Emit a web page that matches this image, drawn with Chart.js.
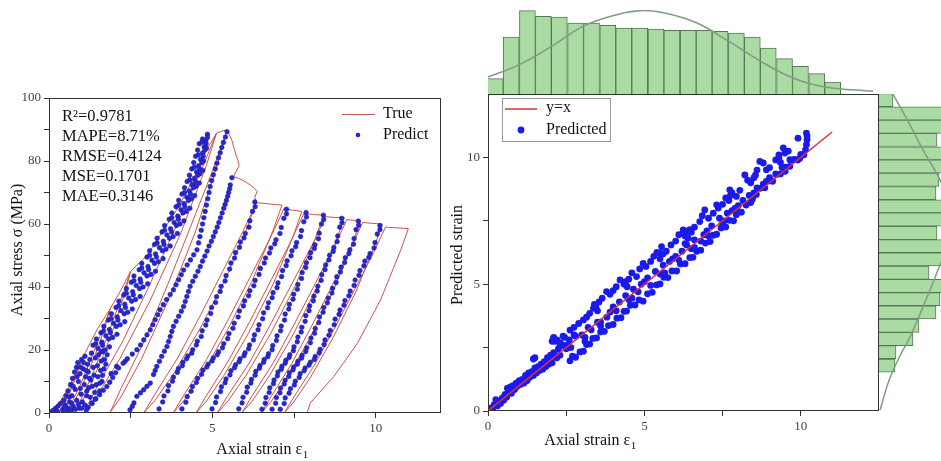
<!DOCTYPE html>
<html>
<head>
<meta charset="utf-8">
<script src="https://cdn.jsdelivr.net/npm/chart.js@4.4.0/dist/chart.umd.min.js"></script>
<style>
  html, body { margin: 0; padding: 0; background: #fff; overflow: hidden; }
  #wrap { position: relative; width: 941px; height: 461px; overflow: hidden; background: #fff; }
  #wrap canvas { position: absolute; top: 0; }
</style>
</head>
<body>
<div id="wrap">
  <canvas id="leftChart" width="450" height="461" style="left:0;width:450px;height:461px"></canvas>
  <canvas id="scatterChart" width="501" height="461" style="left:440px;width:501px;height:461px"></canvas>
  <canvas id="topHist" width="501" height="96" style="left:440px;width:501px;height:96px"></canvas>
  <canvas id="rightHist" width="130" height="461" style="left:879px;width:130px;height:461px"></canvas>
</div>
<script>
// ==========================================================
// DATA - left panel (stress-strain, cyclic loading)
// ==========================================================

// measured curve, [strain, stress]
const trueCurve = [
  [0,0],[0.3,3],[0.6,8],[1.0,17],
  [0.944,15.0],[0.811,10.9],[0.65,6.8],[0.489,3.2],[0.37,1.0],[0.3,0],
  [0.37,1.5],[0.51,4.4],[0.65,7.8],[0.79,11.4],[0.916,14.6],[1.0,17],
  [1.2,21],[1.5,27],[1.87,33],
  [1.764,29.0],[1.514,21.1],[1.21,13.2],[0.906,6.3],[0.682,2.0],[0.55,0],
  [0.682,3.0],[0.946,8.6],[1.21,15.2],[1.474,22.1],[1.712,28.4],[1.87,33],
  [2.2,39],[2.5,45],
  [2.364,39.6],[2.041,28.8],[1.65,18.0],[1.259,8.6],[0.97,2.7],[0.8,0],
  [0.97,4.1],[1.31,11.7],[1.65,20.7],[1.99,30.2],[2.296,38.7],[2.5,45],
  [3.0,50],[3.5,58],[4.0,66],[4.5,76],[4.85,84],[5.13,88.9],
  [4.804,78.2],[4.028,56.9],[3.09,35.6],[2.152,16.9],[1.458,5.3],[1.05,0],
  [1.458,8.0],[2.274,23.1],[3.09,40.9],[3.906,59.6],[4.64,76.5],[5.13,88.9],
  [5.3,89.5],[5.45,89.8],
  [5.163,79.0],[4.481,57.5],[3.655,35.9],[2.829,17.1],[2.219,5.4],[1.86,0],
  [2.219,8.1],[2.937,23.3],[3.655,41.3],[4.373,60.2],[5.019,77.2],[5.45,89.8],
  [5.6,86.5],[5.72,82],[5.78,80.3],[5.82,78.5],[5.72,76.5],[5.65,75],[5.8,74.5],[6.0,73.5],
  [6.16,72.4],[6.3,71.2],[6.37,70.3],[6.3,68.5],[6.35,67],
  [6.074,59.0],[5.419,42.9],[4.625,26.8],[3.832,12.7],[3.245,4.0],[2.9,0],
  [3.245,6.0],[3.935,17.4],[4.625,30.8],[5.315,44.9],[5.936,57.6],[6.35,66.8],
  [6.7,66.4],[7.13,66],
  [6.864,58.1],[6.231,42.2],[5.465,26.4],[4.699,12.5],[4.133,4.0],[3.8,0],
  [4.14,5.9],[4.82,16.9],[5.5,29.9],[6.18,43.6],[6.79,55.9],[7.2,65],
  [7.45,64.4],[7.74,64],
  [7.481,56.3],[6.865,41.0],[6.12,25.6],[5.375,12.2],[4.824,3.8],[4.5,0],
  [4.83,5.7],[5.49,16.5],[6.15,29.1],[6.81,42.4],[7.4,54.4],[7.8,63.3],
  [8.1,63],[8.41,62.8],
  [8.149,55.3],[7.53,40.2],[6.78,25.1],[6.03,11.9],[5.476,3.8],[5.15,0],
  [5.48,5.6],[6.15,16.2],[6.81,28.7],[7.47,41.7],[8.07,53.6],[8.47,62.3],
  [8.75,62.1],[9.04,62],
  [8.789,54.6],[8.192,39.7],[7.47,24.8],[6.748,11.8],[6.214,3.7],[5.9,0],
  [6.22,5.5],[6.87,16.0],[7.51,28.2],[8.15,41.1],[8.73,52.8],[9.12,61.4],
  [9.3,61.2],[9.53,61],
  [9.288,53.7],[8.712,39.0],[8.015,24.4],[7.318,11.6],[6.803,3.7],[6.5,0],
  [6.81,5.4],[7.43,15.7],[8.05,27.8],[8.67,40.5],[9.23,52.0],[9.6,60.5],
  [9.9,60.2],[10.2,60],
  [9.96,52.8],[9.39,38.4],[8.7,24.0],[8.01,11.4],[7.5,3.6],[7.2,0],
  [7.51,5.3],[8.13,15.3],[8.75,27.1],[9.37,39.5],[9.93,50.7],[10.3,59],
  [10.65,58.8],[11.0,58.5],
  [10.77,51.8],[10.15,35.9],[9.44,22.1],[8.72,11.6],[8.0,3.2],[7.9,0]
];

// predicted points, grouped by loading branch
const predCluster = [
  [0.05,0.3],[0.12,0.8],[0.2,1.5],[0.28,2.2],[0.35,3],[0.42,1],[0.45,4],[0.5,2.5],[0.52,5.5],[0.58,7],
  [0.6,1.5],[0.63,3.5],[0.66,9],[0.7,5.5],[0.72,11],[0.75,2],[0.78,13],[0.8,7.5],[0.84,14.5],[0.85,4],
  [0.88,16],[0.9,10],[0.92,1.5],[0.95,12.5],[0.98,6],[1.0,17],[1.02,3.5],[1.05,14],[1.08,9],[1.1,18],
  [1.12,11.5],[1.15,5.5],[1.18,15.5],[1.2,13],[1.22,8],[1.25,17],[1.28,10.5],[1.3,19],[1.32,3],[1.35,14.5],
  [1.38,12],[1.4,6.5],[1.42,17.5],[1.45,9],[1.48,15],[1.5,11.5],[1.52,18.5],[1.55,7],[1.58,13.5],[1.6,16.5],
  [1.62,10],[1.65,19.5],[1.68,14],[1.7,17],[0.68,0.8],[0.8,1.2],[1.0,1.5],[1.1,2.5],[0.55,0.5],[0.25,0.6],
  [1.9,12.5],[2.07,14.8],[2.33,16.4],
  [0.62,5],[0.74,8.5],[0.86,11.5],[0.97,14.5],[1.06,16],[1.14,13.5],[1.24,11],[1.33,8.5],[1.43,4.5],[1.56,9.5],
  [1.64,12],[1.74,15.5],[1.78,18.5],[0.96,7.8],[1.16,7],[1.26,5],[0.48,1.8],[0.7,3],[0.9,2.8],[1.2,1.8]
];
const predBand = [
  [1.5,20.5],[1.62,22.5],[1.74,24.5],[1.85,26.5],[1.97,28.5],[2.09,30.5],[2.2,32.5],[2.32,34.5],[2.44,36.5],
  [2.56,38.5],[2.67,40.5],[2.79,42.5],[2.91,44.5],[3.03,46.5],[3.15,48.5],[3.26,50.5],[3.38,52.5],[3.5,54.5],
  [3.61,56.5],[3.72,58.5],[3.83,60.5],[3.94,62.5],[4.04,64.5],[4.13,66.5],[4.22,68.5],[4.3,70.5],[4.38,72.5],
  [4.45,74.5],[4.52,76.5],[4.58,78.5],[4.64,80.5],[4.7,82.5],[4.75,84.5],[4.8,86.5],[4.85,88.5],
  [1.35,21.5],[1.59,25.5],[1.82,29.5],[2.05,33.5],[2.29,37.5],[2.52,41.5],[2.76,45.5],[3.0,49.5],[3.23,53.5],
  [3.46,57.5],[3.68,61.5],[3.89,65.5],[4.07,69.5],[4.23,73.5],[4.37,77.5],[4.49,81.5],[4.6,85.5],
  [1.72,20],[1.95,24],[2.18,28],[2.41,32],[2.65,36],[2.88,40],[3.12,44],[3.35,48],[3.58,52],[3.8,56],
  [4.01,60],[4.2,64],[4.36,68],[4.5,72],[4.62,76],[4.73,80],[4.82,84],
  [1.45,23.5],[1.68,27.5],[1.91,31.5],[2.14,35.5],[2.37,39.5],[2.6,43.5],[2.84,47.5],[3.08,51.5],[3.31,55.5],
  [3.54,59.5],[3.76,63.5],[3.97,67.5],[4.15,71.5],[4.3,75.5],[4.43,79.5],[4.55,83.5],[4.7,87],
  [1.6,19.5],[1.83,23.5],[2.06,27.5],[2.3,31.5],[2.53,35.5],[2.77,39.5],[3.0,43.5],[3.23,47.5],[3.47,51.5],
  [3.69,55.5],[3.9,59.5],[4.1,63.5],[4.27,67.5],[4.42,71.5],[4.56,75.5],[4.68,79.5],[4.77,83.5],[4.85,87.5],
  [1.43,22],[1.67,26],[1.9,30],[2.13,34],[2.37,38],[2.6,42],[2.84,46],[3.08,50],[3.31,54],
  [3.54,58],[3.76,62],[3.97,66],[4.15,70],[4.31,74],[4.45,78],[4.57,82],[4.68,86],
  [1.64,21.5],[1.88,25.5],[2.11,29.5],[2.34,33.5],[2.58,37.5],[2.81,41.5],[3.05,45.5],[3.29,49.5],[3.52,53.5],
  [3.75,57.5],[3.96,61.5],[4.16,65.5],[4.33,69.5],[4.48,73.5],[4.61,77.5],[4.72,81.5],[4.81,85.5],
  [1.85,21],[2.08,25],[2.32,29],[2.55,33],[2.79,37],[3.02,41],[3.26,45],[3.49,49],[3.71,53],
  [3.93,57],[4.13,61],[4.31,65],[4.46,69],[4.6,73],[4.71,77]
];
const predCol1 = [
  [1.15,1],[1.31,3.2],[1.55,5.8],[1.77,8.4],[1.95,11.3],[2.13,14.3],[2.4,17.2],[2.69,20.1],[2.9,23.2],[3.1,26.4],
  [3.25,29.6],[3.4,32.8],[3.6,36],[3.81,39.1],[3.97,42.3],[4.12,45.4],[4.33,48.6],[4.53,51.8],[4.62,56],[4.7,60],
  [4.78,64],[4.86,68],[4.93,71.9],[5.03,75.6],[5.14,79.3],[5.24,82.6],[5.34,85.9],[5.45,89.3],
  [1.42,4.4],[1.66,7.2],[1.86,9.8],[2.04,12.8],[2.27,15.8],[2.55,18.7],[2.8,21.6],[3.0,24.8],[3.18,28],[3.33,31.2],
  [3.5,34.4],[3.71,37.6],[3.89,40.7],[4.05,43.9],[4.23,47],[4.43,50.2],[4.58,54],[4.66,58],[4.74,62],[4.82,66],
  [4.9,70],[4.98,73.8],[5.09,77.5],[5.19,81],[5.29,84.3],[5.4,87.6]
];
const predCol2 = [
  [2.48,1],[2.6,3.2],[2.69,5.3],[2.9,7.4],[3.1,9.5],[3.2,12.2],[3.3,14.8],[3.45,18],[3.61,21.1],[3.71,24.3],
  [3.81,27.5],[3.97,30.7],[4.12,33.8],[4.22,37],[4.32,40.2],[4.48,43.4],[4.63,46.5],[4.77,49.8],[4.9,53],[5.03,56],
  [5.15,59],[5.25,62],[5.35,65],[5.43,67.5],[5.5,70],[5.55,72.4],[5.6,74.7],
  [2.55,2.1],[2.8,6.4],[3.0,8.5],[3.25,13.5],[3.38,16.4],[3.53,19.6],[3.66,22.7],[3.76,25.9],[3.89,29.1],[4.05,32.3],
  [4.17,35.4],[4.27,38.6],[4.4,41.8],[4.56,45],[4.7,48.2],[4.84,51.4],[4.97,54.5],[5.09,57.5],[5.2,60.5],[5.3,63.5],
  [5.39,66.2],[5.47,68.8],[5.53,71.2]
];
const predCol3 = [
  [3.37,1.3],[3.52,5.4],[3.66,8.7],[3.81,11.4],[3.96,14.1],[4.10,16.1],[4.25,18.1],[4.40,20.1],[4.54,22.8],[4.69,26.1],
  [4.84,29.5],[4.98,33.5],[5.13,36.9],[5.27,40.2],[5.42,43.6],[5.57,47.6],[5.71,50.9],[5.86,54.3],[6.01,57.0],[6.15,61.0],
  [6.23,64.0],[6.30,67.0],
  [3.48,3.5],[3.64,7.0],[3.78,10.1],[3.93,12.9],[4.08,15.0],[4.21,17.2],[4.37,19.0],[4.51,21.6],[4.66,24.3],[4.80,27.9],
  [4.95,31.6],[5.10,35.1],[5.24,38.6],[5.39,41.9],[5.53,45.7],[5.68,49.2],[5.83,52.6],[5.97,55.6],[6.12,59.0],[6.31,65.5]
];
const predCol4 = [
  [4.07,1.3],[4.23,5.2],[4.39,8.4],[4.55,11.0],[4.71,13.6],[4.87,15.5],[5.03,17.5],[5.19,19.4],[5.35,22.0],[5.51,25.2],
  [5.67,28.5],[5.83,32.4],[5.99,35.6],[6.15,38.8],[6.31,42.1],[6.47,45.9],[6.63,49.2],[6.79,52.4],[6.95,55.0],[7.11,58.9],
  [7.19,61.8],[7.27,64.7],
  [4.19,3.4],[4.35,6.9],[4.51,9.7],[4.67,12.3],[4.83,14.6],[4.99,16.5],[5.15,18.5],[5.31,20.7],[5.47,23.6],[5.63,26.9],
  [5.79,30.5],[5.95,34.0],[6.11,37.2],[6.27,40.4],[6.43,44.0],[6.59,47.6],[6.75,50.8],[6.91,53.7],[7.07,57.0],[7.27,63.2]
];
const predCol5 = [
  [4.99,1.3],[5.13,5.1],[5.28,8.3],[5.42,10.8],[5.57,13.4],[5.71,15.3],[5.85,17.2],[6.00,19.1],[6.14,21.6],[6.29,24.8],
  [6.43,28.0],[6.57,31.8],[6.72,35.0],[6.86,38.2],[7.01,41.3],[7.15,45.2],[7.29,48.3],[7.44,51.5],[7.58,54.1],[7.73,57.9],
  [7.80,60.7],[7.87,63.6],
  [5.10,3.3],[5.25,6.8],[5.39,9.6],[5.54,12.1],[5.68,14.4],[5.82,16.3],[5.97,18.2],[6.11,20.4],[6.26,23.2],[6.40,26.4],
  [6.54,29.9],[6.69,33.4],[6.83,36.6],[6.98,39.8],[7.12,43.3],[7.26,46.8],[7.41,49.9],[7.55,52.8],[7.70,56.0],[7.88,62.2]
];
const predCol6 = [
  [5.81,1.3],[5.94,5.0],[6.07,8.2],[6.20,10.7],[6.33,13.2],[6.46,15.1],[6.59,17.0],[6.72,18.8],[6.85,21.4],[6.98,24.5],
  [7.11,27.6],[7.23,31.4],[7.36,34.5],[7.49,37.7],[7.62,40.8],[7.75,44.6],[7.88,47.7],[8.01,50.9],[8.14,53.4],[8.27,57.1],
  [8.34,60.0],[8.40,62.8],
  [5.91,3.2],[6.05,6.6],[6.18,9.5],[6.31,12.0],[6.44,14.2],[6.57,16.1],[6.70,17.9],[6.83,20.1],[6.96,23.0],[7.09,26.1],
  [7.21,29.5],[7.34,33.0],[7.47,36.1],[7.60,39.3],[7.73,42.7],[7.86,46.2],[7.99,49.3],[8.12,52.2],[8.25,55.3],[8.41,61.4]
];
const predCol7 = [
  [6.52,1.2],[6.64,4.9],[6.76,8.0],[6.89,10.5],[7.01,13.0],[7.13,14.8],[7.25,16.7],[7.37,18.5],[7.50,21.0],[7.62,24.1],
  [7.74,27.2],[7.86,30.9],[7.98,34.0],[8.11,37.1],[8.23,40.2],[8.35,43.9],[8.47,47.0],[8.59,50.1],[8.72,52.5],[8.84,56.2],
  [8.90,59.0],[8.96,61.8],
  [6.62,3.1],[6.74,6.5],[6.87,9.3],[6.99,11.8],[7.11,13.9],[7.23,15.8],[7.35,17.6],[7.48,19.8],[7.60,22.6],[7.72,25.7],
  [7.84,29.1],[7.96,32.5],[8.09,35.6],[8.21,38.7],[8.33,42.1],[8.45,45.5],[8.57,48.6],[8.70,51.3],[8.82,54.4],[8.97,60.4]
];
const predCol8 = [
  [6.83,1.2],[6.96,4.9],[7.09,7.9],[7.23,10.4],[7.36,12.8],[7.49,14.6],[7.62,16.4],[7.75,18.3],[7.89,20.7],[8.02,23.8],
  [8.15,26.8],[8.28,30.5],[8.41,33.5],[8.55,36.5],[8.68,39.6],[8.81,43.2],[8.94,46.3],[9.07,49.3],[9.21,51.8],[9.34,55.4],
  [9.40,58.2],[9.47,60.9],
  [6.94,3.1],[7.07,6.4],[7.20,9.2],[7.34,11.6],[7.47,13.7],[7.60,15.5],[7.73,17.4],[7.86,19.5],[8.00,22.3],[8.13,25.3],
  [8.26,28.7],[8.39,32.0],[8.52,35.0],[8.66,38.1],[8.79,41.4],[8.92,44.8],[9.05,47.8],[9.18,50.6],[9.32,53.6],[9.48,59.6]
];
const predCol9 = [
  [7.08,1.2],[7.23,4.8],[7.39,7.7],[7.54,10.1],[7.69,12.5],[7.84,14.3],[8.00,16.1],[8.15,17.9],[8.30,20.2],[8.45,23.2],
  [8.61,26.2],[8.76,29.8],[8.91,32.7],[9.06,35.7],[9.22,38.7],[9.37,42.2],[9.52,45.2],[9.67,48.2],[9.83,50.6],[9.98,54.1],
  [10.05,56.8],[10.13,59.5],
  [7.20,3.0],[7.35,6.3],[7.51,8.9],[7.66,11.3],[7.81,13.4],[7.96,15.2],[8.12,17.0],[8.27,19.1],[8.42,21.7],[8.57,24.7],
  [8.73,28.0],[8.88,31.3],[9.03,34.2],[9.18,37.2],[9.34,40.5],[9.49,43.7],[9.64,46.7],[9.79,49.4],[9.95,52.4],[10.13,58.2]
];

const metricLines = ['R\u00B2=0.9781', 'MAPE=8.71%', 'RMSE=0.4124', 'MSE=0.1701', 'MAE=0.3146'];

// ==========================================================
// DATA - right panel (predicted vs true strain)
// ==========================================================

const lineYX = [[0, 0], [11, 11]];

const scatterPts = [
  [0.05,0.02],[0.1,0.12],[0.15,0.1],[0.2,0.25],[0.25,0.45],[0.3,0.2],[0.35,0.38],[0.4,0.3],[0.45,0.5],[0.5,0.42],
  [0.55,0.65],[0.6,0.55],[0.62,0.9],[0.68,0.75],[0.72,0.95],[0.75,0.7],[0.8,1.0],[0.85,0.85],[0.9,1.1],[0.95,1.0],
  [1.0,1.2],[1.05,1.05],[1.1,1.25],[1.15,1.1],[1.2,1.4],[1.25,1.2],[1.3,1.5],[1.35,1.35],[1.4,1.55],[1.45,1.4],
  [1.5,1.7],[1.55,1.5],[1.6,1.75],[1.65,1.6],[1.7,1.85],[1.75,1.65],[1.8,1.95],[1.85,1.75],[1.9,2.1],[1.95,1.85],
  [2.0,2.2],[2.05,1.9],[2.1,2.3],[1.45,2.05],[1.5,2.1],[2.1,2.9],[2.05,2.75],[2.2,2.1],[2.25,2.45],[2.3,2.2],
  [2.4,2.6],[2.5,2.45],[2.6,2.8],[2.65,2.5],[2.75,3.0],
  [2.62,1.98],[2.7,2.16],[2.8,2.12],[2.94,2.33],[3.05,2.36],[3.15,2.62],[3.25,2.64],[3.35,2.86],[3.47,2.88],[3.6,3.12],
  [3.72,3.14],[3.85,3.37],[4.0,3.41],[4.12,3.66],[4.25,3.68],[4.35,3.93],[4.43,3.94],[4.55,4.17],[4.7,4.18],[4.83,4.38],
  [4.96,4.33],[5.1,4.62],[5.25,4.68],[5.39,4.97],[5.5,5.01],[5.62,5.27],[5.75,5.26],[5.88,5.52],[6.03,5.52],[6.15,5.8],
  [6.3,5.81],[6.45,6.05],[6.55,6.06],[6.67,6.3],[6.8,6.34],[6.95,6.62],[7.1,6.68],[7.2,6.93],[7.31,6.97],[7.45,7.22],
  [7.6,7.26],[7.72,7.52],[7.85,7.5],[7.94,7.74],[8.1,7.84],[8.25,8.12],[8.4,8.22],[8.5,8.5],[8.58,8.54],[8.7,8.78],
  [8.85,8.8],[9.0,9.08],[9.1,9.06],[9.22,9.33],[9.35,9.35],[9.5,9.62],[9.65,9.65],[9.8,9.92],[9.9,9.9],[10.0,10.12],
  [10.1,10.1],
  [2.09,2.86],[2.15,2.75],[2.3,2.7],[2.45,2.9],[2.62,3.19],[2.75,3.3],[2.9,3.45],[3.05,3.59],[3.15,3.7],[3.25,3.85],
  [3.37,4.05],[3.45,4.1],[3.55,4.3],[3.65,4.45],[3.79,4.71],[3.9,4.6],[4.0,4.75],[4.1,4.9],[4.22,5.17],[4.35,5.0],
  [4.5,5.2],[4.6,5.45],[4.75,5.3],[4.85,5.6],[4.96,5.82],[5.05,5.7],[5.2,5.9],[5.3,6.1],[5.4,6.25],[5.49,6.22],
  [5.55,6.48],[5.7,6.3],[5.85,6.55],[6.0,6.7],[6.1,6.95],[6.24,7.14],[6.3,6.9],[6.4,6.81],[6.5,7.05],[6.6,7.25],
  [6.77,7.47],[6.85,7.7],[6.93,7.93],[7.05,7.6],[7.2,7.8],[7.31,8.13],[7.36,8.0],[7.5,8.15],[7.6,8.4],[7.73,8.72],
  [7.8,8.6],[7.94,8.46],[8.05,8.7],[8.21,9.31],[8.3,9.1],[8.4,9.0],[8.55,9.3],[8.69,9.84],[8.8,9.78],[8.9,9.51],
  [9.0,9.6],[9.2,9.9],[9.3,10.0],[9.44,10.37],[9.49,10.17],[9.6,10.25],[9.65,9.91],[9.91,10.76],[9.97,9.97],[10.18,10.96],
  [10.2,10.85],[10.2,10.7],[10.18,10.5],[10.15,10.3],
  [3.0,3.0],[3.5,3.5],[4.0,4.1],[4.5,4.4],[5.0,5.1],[5.5,5.4],[6.0,6.1],[6.5,6.4],[7.0,7.1],[7.5,7.4],
  [8.0,8.1],[8.5,8.6],[9.0,9.2],[9.5,9.45],[3.2,3.3],[3.8,3.7],[4.8,4.7],[5.8,5.9],[6.8,6.7],[7.8,7.9],[8.8,8.95],
  [2.3,2.55],[2.55,2.6],[2.8,2.95],[3.1,2.9],[3.3,3.2],[3.6,3.5],[3.9,3.9],[4.2,4.3],[4.4,4.55],[4.65,4.8],
  [4.9,5.0],[5.1,5.25],[5.35,5.5],[5.6,5.75],[5.9,6.0],[6.2,6.3],[6.35,6.55],[6.6,6.75],[6.9,6.95],[7.15,7.3],
  [7.4,7.6],[7.65,7.8],[7.9,8.0],[8.15,8.3],[8.35,8.5],[8.6,8.8],[8.9,9.05],[9.2,9.35],[9.4,9.6],[9.75,9.9],
  [5.2,4.95],[5.65,5.45],[6.1,5.95],[6.6,6.45],[7.05,6.9],[7.55,7.5],[8.0,7.85],[8.45,8.35],[4.6,4.45],[4.1,3.95],
  [3.6,3.35],[3.1,2.75],[6.3,6.6],[6.35,6.9],[6.4,7.1],[6.45,7.15],[5.5,6.0],[5.6,6.2],[4.4,5.1],[4.45,4.9],
  [3.4,4.2],[3.5,3.95],[2.4,2.95],[2.2,2.8],[7.7,8.3],[7.75,8.5],[8.5,9.2],[8.6,9.5],[9.3,10.1],[9.35,9.8],
  [1.3,1.3],[1.7,1.7],[2.0,2.0],[0.5,0.55],[0.9,0.95]
];

// top histogram (true strain)
const topBinCenters = [0.23,0.74,1.26,1.77,2.28,2.80,3.31,3.83,4.34,4.85,5.37,5.88,6.40,6.91,7.42,7.94,8.45,8.96,9.48,9.99,10.51,11.02];
const topCounts = [9.2,34.2,50,46.6,46.2,42.6,42.6,41.2,39.6,39.6,39,38.2,38.2,38.2,37.6,36.6,34.2,27.6,21.2,16.6,12.2,7.2];
const topCurveX = [0,1.0,2.03,3.08,4.11,4.86,5.65,6.68,7.7,8.72,9.75,10.77,12.31];
const topCurveY = [10.2,17.6,28.6,41,47.6,50,48.6,42.6,31.6,19.6,9.6,4.2,1.6];

// right histogram (predicted strain)
const rightBinCenters = [12.26,11.73,11.21,10.69,10.16,9.64,9.12,8.59,8.07,7.55,7.02,6.50,5.98,5.45,4.93,4.41,3.89,3.36,2.84,2.32,1.79];
const rightCounts = [14,74,79,58,71,77,60,57,84,81,58,69,75,50,66,61,57,40,34,17,16];
const rightCurveLen = [1,10,20,31,51,61,72,76,72,61,44,28,14];
const rightCurveVal = [0.03,1.2,2.1,2.92,4.77,5.76,6.8,7.44,8.1,9.12,10.3,11.5,12.49];

// ==========================================================
// HELPERS
// ==========================================================

const SERIF = "'Liberation Serif', 'Times New Roman', serif";

function pts(arr) {
  return arr.map(p => ({ x: p[0], y: p[1] }));
}

function makeAxis(min, max, step, labelStep, lastTick, fitSize, isX) {
  return {
    type: 'linear', min: min, max: max, offset: false,
    ticks: {
      stepSize: step, includeBounds: false, autoSkip: false, maxRotation: 0, padding: 3,
      color: '#444', font: { family: SERIF, size: 13 },
      callback: v => (Math.abs(v % labelStep) < 1e-6 ? String(v) : '')
    },
    afterBuildTicks: s => { s.ticks = s.ticks.filter(t => t.value <= lastTick + 1e-6); },
    grid: { drawOnChartArea: false, drawTicks: true, tickLength: 5, tickColor: '#333', tickWidth: 1 },
    border: { display: false },
    afterFit: s => { if (isX) s.height = fitSize; else s.width = fitSize; }
  };
}

function drawSub(ctx, main, sub, cx, cy, size) {
  ctx.font = size + 'px ' + SERIF;
  const w1 = ctx.measureText(main).width;
  ctx.font = Math.round(size * 0.68) + 'px ' + SERIF;
  const w2 = ctx.measureText(sub).width;
  const x0 = cx - (w1 + w2) / 2;
  ctx.textAlign = 'left';
  ctx.font = size + 'px ' + SERIF;
  ctx.fillText(main, x0, cy);
  ctx.font = Math.round(size * 0.68) + 'px ' + SERIF;
  ctx.fillText(sub, x0 + w1 + 0.5, cy + size * 0.3);
}

const framePlugin = {
  id: 'frame',
  afterDraw(chart) {
    const { ctx, chartArea: a } = chart;
    ctx.save();
    ctx.strokeStyle = '#333';
    ctx.lineWidth = 1;
    ctx.strokeRect(Math.round(a.left) + 0.5, Math.round(a.top) + 0.5,
      Math.round(a.right - a.left) - 1, Math.round(a.bottom - a.top) - 1);
    ctx.restore();
  }
};

const leftTexts = {
  id: 'leftTexts',
  afterDraw(chart) {
    const ctx = chart.ctx;
    ctx.save();
    ctx.fillStyle = '#111';
    ctx.textBaseline = 'middle';
    ctx.textAlign = 'left';
    ctx.font = '16.5px ' + SERIF;
    metricLines.forEach((t, i) => ctx.fillText(t, 62, 117 + i * 20));

    ctx.strokeStyle = '#c9544e';
    ctx.lineWidth = 1;
    ctx.beginPath(); ctx.moveTo(342, 114.5); ctx.lineTo(375, 114.5); ctx.stroke();
    ctx.fillStyle = '#2727d8';
    ctx.beginPath(); ctx.arc(358, 135, 2.3, 0, Math.PI * 2); ctx.fill();
    ctx.fillStyle = '#111';
    ctx.font = '16px ' + SERIF;
    ctx.fillText('True', 383, 114);
    ctx.fillText('Predict', 383, 135);

    drawSub(ctx, 'Axial strain \u03B5', '1', 262, 450, 16);

    ctx.translate(18, 250);
    ctx.rotate(-Math.PI / 2);
    ctx.textAlign = 'center';
    ctx.font = '16px ' + SERIF;
    ctx.fillText('Axial stress \u03C3 (MPa)', 0, 0);
    ctx.restore();
  }
};

const scatterTexts = {
  id: 'scatterTexts',
  afterDraw(chart) {
    const ctx = chart.ctx;
    ctx.save();
    ctx.fillStyle = '#fff';
    ctx.fillRect(62.5, 98.5, 108, 43);
    ctx.strokeStyle = '#999';
    ctx.lineWidth = 1;
    ctx.strokeRect(62.5, 98.5, 108, 43);

    ctx.strokeStyle = '#e0302a';
    ctx.lineWidth = 1.5;
    ctx.beginPath(); ctx.moveTo(65, 109); ctx.lineTo(97, 109); ctx.stroke();
    ctx.fillStyle = '#1a1aef';
    ctx.beginPath(); ctx.arc(81, 130, 3.4, 0, Math.PI * 2); ctx.fill();

    ctx.fillStyle = '#111';
    ctx.textBaseline = 'middle';
    ctx.textAlign = 'left';
    ctx.font = '16px ' + SERIF;
    ctx.fillText('y=x', 106, 108);
    ctx.fillText('Predicted', 106, 130);

    drawSub(ctx, 'Axial strain \u03B5', '1', 150, 441, 16);

    ctx.translate(18, 255);
    ctx.rotate(-Math.PI / 2);
    ctx.textAlign = 'center';
    ctx.font = '16px ' + SERIF;
    ctx.fillText('Predicted strain', 0, 0);
    ctx.restore();
  }
};

const baseOpts = {
  responsive: false,
  animation: false,
  events: [],
  plugins: { legend: { display: false }, tooltip: { enabled: false } }
};

// ==========================================================
// LEFT PANEL
// ==========================================================

const allPredict = [].concat(predCluster, predBand, predCol1, predCol2, predCol3,
  predCol4, predCol5, predCol6, predCol7, predCol8, predCol9);

new Chart(document.getElementById('leftChart'), {
  type: 'scatter',
  data: {
    datasets: [
      {
        label: 'Predict', data: pts(allPredict),
        backgroundColor: '#2727d8', borderColor: '#1b1b9c', borderWidth: 0.6,
        pointRadius: 2.3, order: 0
      },
      {
        label: 'True', data: pts(trueCurve), showLine: true,
        borderColor: '#c9544e', borderWidth: 1, pointRadius: 0, tension: 0, order: 1
      }
    ]
  },
  options: Object.assign({}, baseOpts, {
    layout: { padding: { left: 0, top: 98, right: 9, bottom: 0 } },
    scales: {
      x: makeAxis(0, 12, 2.5, 5, 10, 48, true),
      y: makeAxis(0, 100, 10, 20, 100, 49, false)
    }
  }),
  plugins: [framePlugin, leftTexts]
});

// ==========================================================
// RIGHT PANEL - scatter
// ==========================================================

new Chart(document.getElementById('scatterChart'), {
  type: 'scatter',
  data: {
    datasets: [
      {
        label: 'y=x', data: pts(lineYX), showLine: true,
        borderColor: '#e0302a', borderWidth: 1.5, pointRadius: 0, order: 0
      },
      {
        label: 'Predicted', data: pts(scatterPts),
        backgroundColor: '#1a1aef', borderWidth: 0, pointRadius: 3.4, order: 1
      }
    ]
  },
  options: Object.assign({}, baseOpts, {
    layout: { padding: { left: 0, top: 94, right: 62, bottom: 0 } },
    scales: {
      x: makeAxis(0, 12.5, 2.5, 5, 10, 50, true),
      y: makeAxis(0, 12.5, 2.5, 5, 10, 48, false)
    }
  }),
  plugins: [framePlugin, scatterTexts]
});

// ==========================================================
// MARGINAL HISTOGRAMS
// ==========================================================

new Chart(document.getElementById('topHist'), {
  type: 'bar',
  data: {
    datasets: [
      {
        type: 'line', data: topCurveX.map((x, i) => ({ x: x, y: topCurveY[i] })),
        borderColor: '#7f9c7f', borderWidth: 1.5, pointRadius: 0, tension: 0.4, order: 0
      },
      {
        type: 'bar', data: topBinCenters.map((x, i) => ({ x: x, y: topCounts[i] })),
        backgroundColor: '#aadba3', borderColor: '#587858', borderWidth: 1,
        barPercentage: 1, categoryPercentage: 1, order: 1
      }
    ]
  },
  options: Object.assign({}, baseOpts, {
    layout: { padding: { left: 48, right: 62, top: 10, bottom: 2 } },
    scales: {
      x: { type: 'linear', min: 0, max: 12.5, display: false, offset: false },
      y: { type: 'linear', min: 0, max: 50.4, display: false }
    }
  })
});

new Chart(document.getElementById('rightHist'), {
  type: 'bar',
  data: {
    datasets: [
      {
        type: 'line', data: rightCurveLen.map((x, i) => ({ x: x, y: rightCurveVal[i] })),
        borderColor: '#7f9c7f', borderWidth: 1.5, pointRadius: 0, tension: 0.4, order: 0
      },
      {
        type: 'bar', indexAxis: 'y',
        data: rightBinCenters.map((y, i) => ({ x: rightCounts[i], y: y })),
        backgroundColor: '#aadba3', borderColor: '#587858', borderWidth: 1,
        barPercentage: 1, categoryPercentage: 1, order: 1
      }
    ]
  },
  options: Object.assign({}, baseOpts, {
    layout: { padding: { left: 0, right: 0, top: 94, bottom: 50 } },
    scales: {
      x: { type: 'linear', min: 0, max: 130, display: false, offset: false },
      y: { type: 'linear', min: 0, max: 12.5, display: false, offset: false }
    }
  })
});
</script>
</body>
</html>
